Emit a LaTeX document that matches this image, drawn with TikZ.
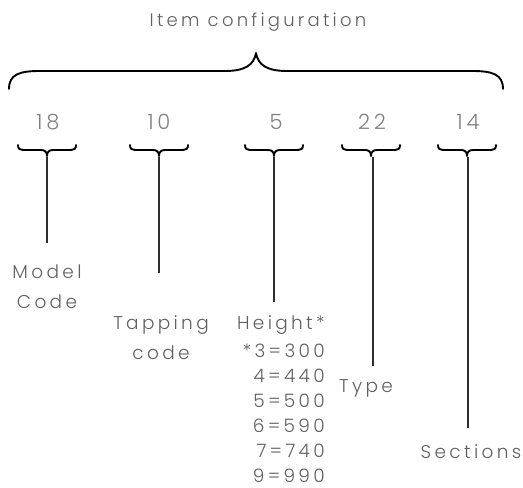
\documentclass[tikz,border=0pt]{standalone}
\usepackage{fontspec}
\setmainfont{Poppins}[UprightFont={* Light},LetterSpace=18]
\definecolor{txtgray}{HTML}{606060}
\definecolor{numgray}{HTML}{808080}
\definecolor{linegray}{HTML}{2E2E2E}
\begin{document}
\begin{tikzpicture}[x=1pt,y=-1pt,
  bracestyle/.style={line width=1.9pt,black,line cap=round,line join=round},
  stem/.style={line width=2.8pt,linegray},
  titletext/.style={font=\fontsize{18}{20}\selectfont,text=txtgray,inner sep=0pt},
  numtext/.style={font=\fontsize{21}{22}\selectfont,text=numgray,inner sep=0pt},
  labeltext/.style={font=\fontsize{18.5}{30}\selectfont,text=txtgray,inner sep=0pt,align=center},
  sbrace/.pic={\draw[bracestyle] (-29,-11) .. controls (-29,-7) and (-27,-6) .. (-24,-6) -- (-6,-6) .. controls (-2,-6) and (0,-4) .. (0,0) .. controls (0,-4) and (2,-6) .. (6,-6) -- (24,-6) .. controls (27,-6) and (29,-7) .. (29,-11);}
]
\useasboundingbox (0,0) rectangle (523,488);
% title and big brace
\node[titletext] (title) at (258,22) {Item configuration};
\draw[bracestyle] (9,89) .. controls (9,74) and (20,71) .. (40,71) -- (225,71) .. controls (245,71) and (254,65) .. (256,53) .. controls (258,65) and (267,71) .. (287,71) -- (472,71) .. controls (492,71) and (503,74) .. (503,89);
% numbers
\node[numtext] (n18) at (48,122) {18};
\node[numtext] (n10) at (159,122) {10};
\node[numtext] (n5) at (276,122) {5};
\node[numtext] (n22) at (372,122) {22};
\node[numtext] (n14) at (468,122) {14};
% small braces
\pic at (47,156) {sbrace};
\pic at (159,156) {sbrace};
\pic at (274,156) {sbrace};
\pic at (371,156) {sbrace};
\pic at (467,156) {sbrace};
\coordinate (t18) at (47,157);
\coordinate (t10) at (159,157);
\coordinate (t5) at (274,157);
\coordinate (t22) at (373,157);
\coordinate (t14) at (468,157);
\coordinate (b18) at (47,243);
\coordinate (b10) at (159,273);
\coordinate (b5) at (274,302);
\coordinate (b22) at (373,366);
\coordinate (b14) at (468,428);
\draw[stem] (t18) -- (b18);
\draw[stem] (t10) -- (b10);
\draw[stem] (t5) -- (b5);
\draw[stem] (t22) -- (b22);
\draw[stem] (t14) -- (b14);
% labels
\node[labeltext] (lmodel) at (47,287) {Model\\Code};
\node[labeltext] (ltap) at (161,337.5) {Tapping\\code};
\node[labeltext,align=right,anchor=north east,font=\fontsize{18.5}{25}\selectfont] (lheight) at (325,315) {Height*\\[3pt]*3=300\\4=440\\5=500\\6=590\\7=740\\9=990};
\node[labeltext] (ltype) at (366,388) {Type};
\node[labeltext] (lsec) at (471,452) {Sections};
\end{tikzpicture}
\end{document}
